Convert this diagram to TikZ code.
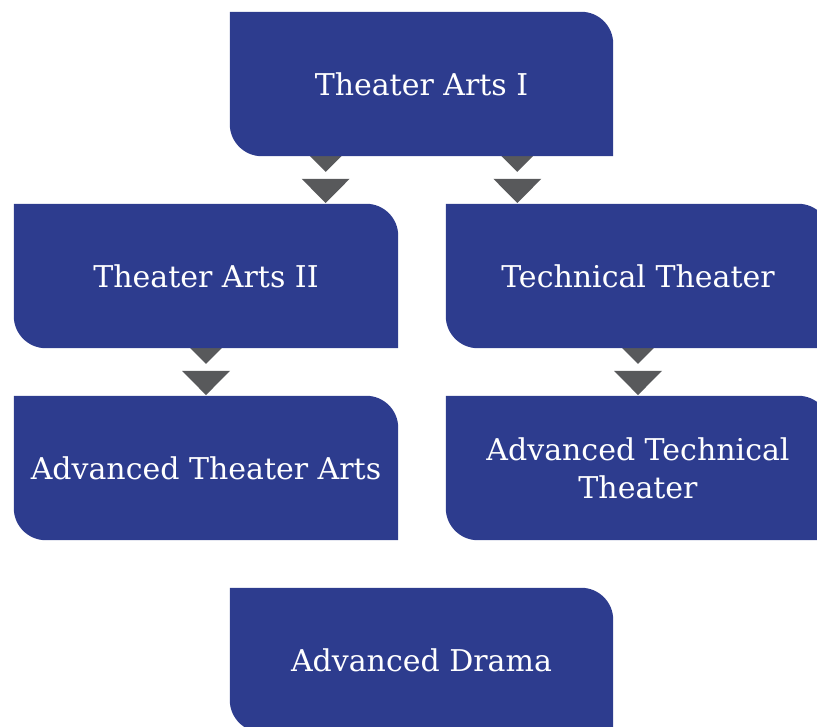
\documentclass[tikz,border=0pt]{standalone}
\usepackage{fontspec}
\setmainfont{DejaVu Serif}
\usetikzlibrary{calc}
\definecolor{boxblue}{HTML}{2D3C8E}
\definecolor{arrgray}{HTML}{58595B}
\pgfdeclarelayer{conn}
\pgfdeclarelayer{fillbg}
\pgfsetlayers{conn,fillbg,main}
\tikzset{
  course/.style={minimum width=384pt, minimum height=144pt, inner sep=0pt,
    text=white, font=\fontsize{30}{38}\selectfont, align=center},
  boxfill/.style={fill=boxblue},
  chevfill/.style={fill=arrgray},
}
\newcommand\shapebox[2]{%
  \begin{pgfonlayer}{fillbg}
  \fill[boxfill] (#1.north west) -- ($(#1.north east)+(-#2,0)$)
    arc[start angle=90,end angle=0,radius=#2] -- (#1.south east)
    -- ($(#1.south west)+(#2,0)$) arc[start angle=270,end angle=180,radius=#2] -- cycle;
  \end{pgfonlayer}}
\newcommand\chev[2]{%
  \begin{pgfonlayer}{conn}
  \fill[chevfill] ($(#1)+(-24,8.3)$) -- ($(#1)+(24,8.3)$) -- ($(#1)+(0,-15.7)$) -- cycle;
  \fill[chevfill] ($(#2)+(-24,25)$) -- ($(#2)+(24,25)$) -- ($(#2)+(0,0.7)$) -- cycle;
  \end{pgfonlayer}}
\begin{document}
\begin{tikzpicture}[x=1pt,y=1pt]
\clip (0,0) rectangle (817,727);
\node[course, minimum width=383pt] (b1) at (421.5,643) {Theater Arts I};
\node[course] (b2) at (206,451) {Theater Arts II};
\node[course] (b3) at (638,451) {Technical Theater};
\node[course] (b4) at (206,259) {Advanced Theater Arts};
\node[course] (b5) at (638,259) {Advanced Technical\\Theater};
\node[course, minimum width=383pt] (b6) at (421.5,67) {Advanced Drama};
\shapebox{b1}{32}
\shapebox{b2}{32}
\shapebox{b3}{32}
\shapebox{b4}{32}
\shapebox{b5}{32}
\shapebox{b6}{32}
\coordinate (s1) at ($(b1.south west)!0.25!(b1.south east)$);
\coordinate (t1) at (s1 |- b2.north);
\coordinate (s2) at ($(b1.south west)!0.75!(b1.south east)$);
\coordinate (t2) at (s2 |- b3.north);
\chev{s1}{t1}
\chev{s2}{t2}
\chev{b2.south}{b4.north}
\chev{b3.south}{b5.north}
\end{tikzpicture}
\end{document}
